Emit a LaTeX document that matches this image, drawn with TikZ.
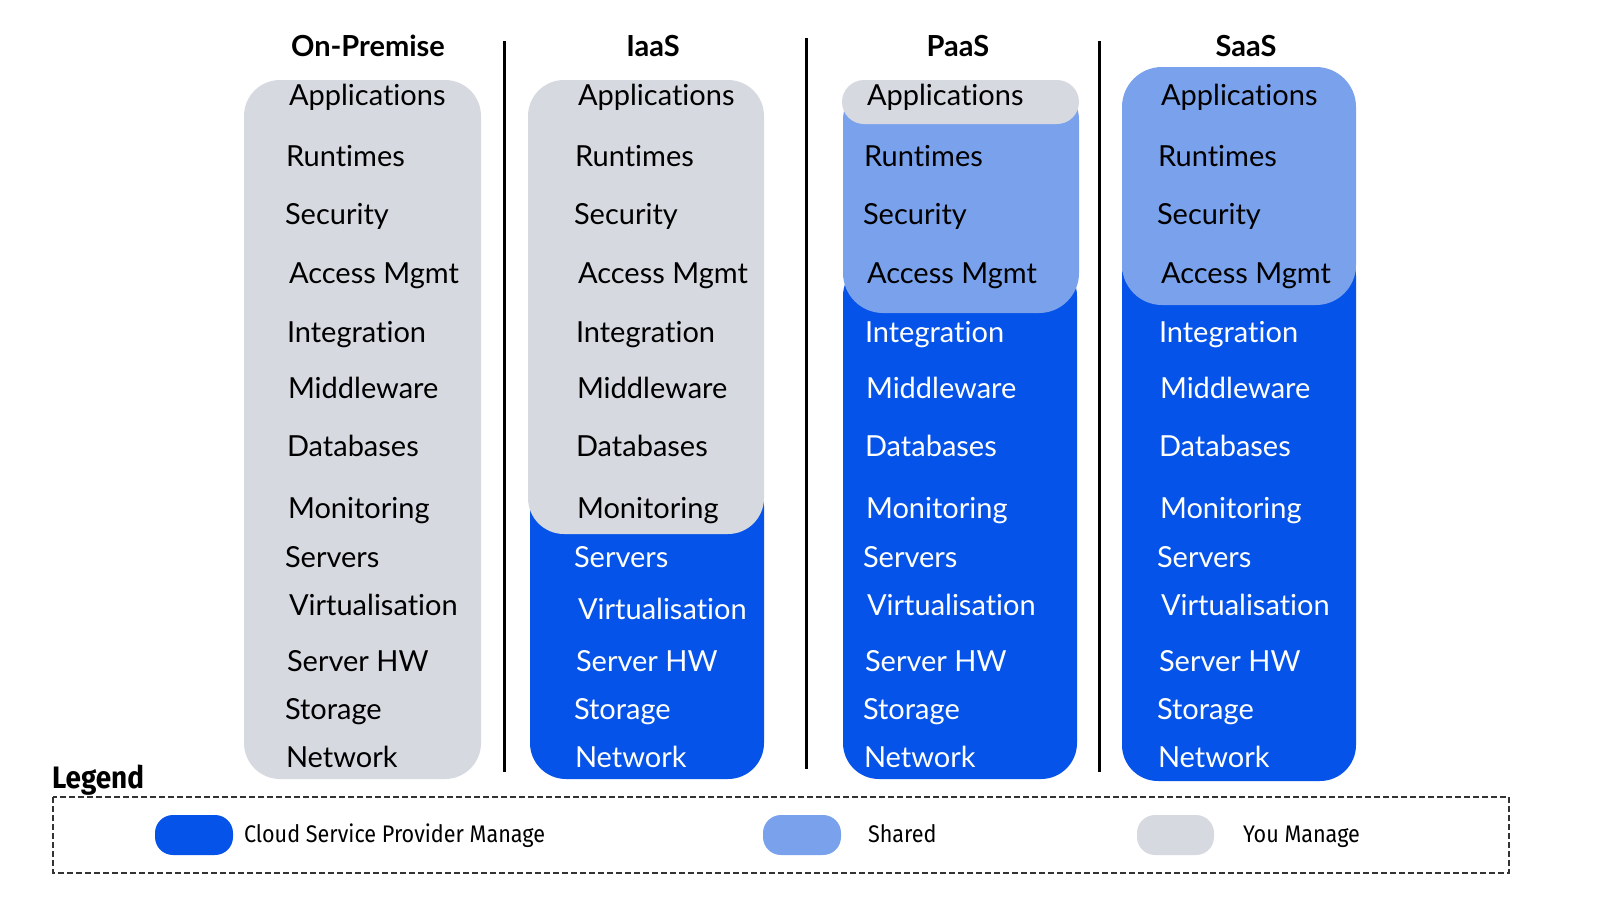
\documentclass[tikz,border=0pt]{standalone}
\usepackage{fontspec}
\setmainfont[Ligatures=NoCommon]{Lato}
\newfontfamily\legfont[FakeStretch=0.9]{Fira Sans}
\definecolor{cspblue}{HTML}{0553E9}
\definecolor{sharedblue}{HTML}{7AA1EC}
\definecolor{yougray}{HTML}{D6D9E0}
\begin{document}
\begin{tikzpicture}[x=1pt,y=-1pt,
  every node/.style={inner sep=0pt, outer sep=0pt},
  item/.style={anchor=west, font=\fontsize{29}{32}\selectfont, text height=0.72em, text depth=0.2em},
  header/.style={font=\bfseries\fontsize{29}{32}\selectfont},
  divider/.style={line width=3pt, black},
  cspbox/.style={fill=cspblue, rounded corners=36pt},
  sharedbox/.style={fill=sharedblue, rounded corners=40pt},
  youbox/.style={fill=yougray, rounded corners=36pt},
  swatch/.style={rounded corners=18pt},
  legtext/.style={anchor=west, font=\legfont\fontsize{24}{27}\selectfont, text height=0.72em, text depth=0.2em}]
\useasboundingbox (0,0) rectangle (1600,900);
% column backgrounds
\fill[youbox] (244,80) rectangle (481,779);
\fill[cspbox] (530,470) rectangle (764,779);
\fill[youbox] (528,80) rectangle (764,534);
\fill[cspbox] (843,260) rectangle (1077,779);
\fill[sharedbox] (843,80) rectangle (1079,313);
\fill[yougray, rounded corners=22pt] (842,80) rectangle (1079,124);
\fill[cspbox] (1122,240) rectangle (1356,781);
\fill[sharedbox] (1122,67) rectangle (1356,305);
% headers
\node[header] (h1) at (368,46) {On-Premise};
\node[header] (h2) at (653,46) {IaaS};
\node[header] (h3) at (958,46) {PaaS};
\node[header] (h4) at (1246,46) {SaaS};
% dividers
\coordinate (d1t) at (504,41); \coordinate (d1b) at (504,772);
\coordinate (d2t) at (806,38); \coordinate (d2b) at (806,769);
\coordinate (d3t) at (1099,41); \coordinate (d3b) at (1099,772);
\draw[divider] (d1t) -- (d1b);
\draw[divider] (d2t) -- (d2b);
\draw[divider] (d3t) -- (d3b);
% items
\def\itemlist{289/103/Applications, 286/164/Runtimes, 285/222/Security, 289/281/Access Mgmt, 287/340/Integration, 288/396/Middleware, 287/454/Databases, 288/516/Monitoring, 285/565/Servers, 289/613/Virtualisation, 287/669/Server HW, 285/717/Storage, 286/765/Network}
\foreach \col/\dx/\nblack in {1/0/13, 2/289/8, 3/578/4, 4/872/4} {
  \foreach \x/\y/\t [count=\i] in \itemlist {
    \ifnum\i>\nblack \def\tc{white}\else\def\tc{black}\fi
    \pgfmathsetmacro\yy{\y + (\col==2)*(\i==10)*4}
    \node[item, text=\tc] (c\col i\i) at (\x+\dx, \yy) {\t};
  }
}
% legend
\node[anchor=west, font=\legfont\bfseries\fontsize{31}{33}\selectfont] (legtitle) at (52,780) {Legend};
\draw[dashed, line width=1.3pt, black!80, dash pattern=on 6pt off 3pt] (53,797) rectangle (1509,873);
\fill[swatch, cspblue] (155,815) rectangle (233,855);
\node[legtext] (l1) at (244,840) {Cloud Service Provider Manage};
\fill[swatch, sharedblue] (763,815) rectangle (841,855);
\node[legtext] (l2) at (868,840) {Shared};
\fill[swatch, yougray] (1137,815) rectangle (1214,855);
\node[legtext] (l3) at (1243,840) {You Manage};
\end{tikzpicture}
\end{document}
